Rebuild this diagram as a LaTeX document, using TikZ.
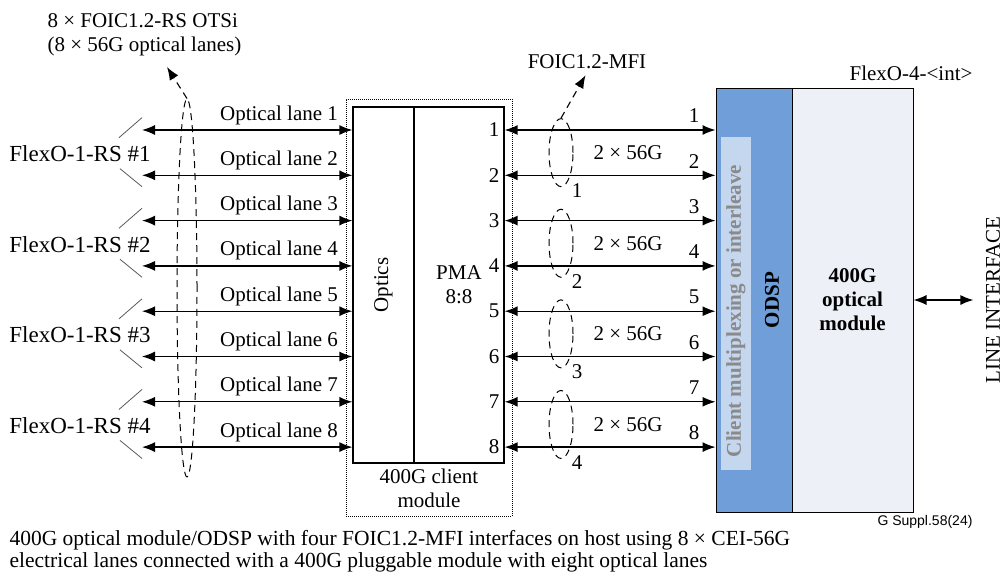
\documentclass[tikz,border=0pt]{standalone}
\usepackage{fontspec}
\setmainfont{Liberation Serif}
\newfontfamily\arialfont{Liberation Sans}
\usepackage{tikz}
\usetikzlibrary{arrows.meta, shapes.geometric, calc}

\newcommand{\bigtxt}{\fontsize{21}{24}\selectfont}
\definecolor{odspblue}{RGB}{111,158,217}
\definecolor{striplight}{RGB}{197,215,239}
\definecolor{modgray}{RGB}{237,240,246}
\definecolor{cligray}{RGB}{138,138,138}

\tikzset{
    lane/.style={{Latex[length=13pt,width=10pt]}-{Latex[length=13pt,width=10pt]}, line width=1.3pt},
    pointer/.style={-{Latex[length=13pt,width=10pt]}, dash pattern=on 7pt off 5pt, line width=1.1pt},
    blk/.style={draw, line width=1.2pt, inner sep=0pt},
    pair/.style={ellipse, draw, dash pattern=on 7pt off 5pt, line width=1pt, minimum width=24pt, minimum height=68pt, inner sep=0pt},
    slash/.style={draw=black!65, line width=0.8pt}
}

\begin{document}
\begin{tikzpicture}[x=1pt, y=-1pt, font=\bigtxt]
    \useasboundingbox (0,0) rectangle (1003,571);

    \node[blk, minimum width=61pt, minimum height=356pt] (optics) at (383.5,285) {};
    \node[rotate=90] (opticslbl) at (optics) {Optics};
    \node[blk, minimum width=90pt, minimum height=356pt, align=center] (pma) at (459,285) {PMA\\8:8};
    \node[draw, densely dotted, line width=1pt, minimum width=166pt, minimum height=417pt] (client) at (429,307.5) {};
    \node[align=center] (clientlbl) at (429,488) {400G client\\module};

    \node[draw, line width=1pt, fill=odspblue, minimum width=76pt, minimum height=424pt] (odsp) at (754,300) {};
    \node[fill=striplight, minimum width=30pt, minimum height=333pt] (strip) at (736,303.5) {};
    \node[rotate=90, text=cligray, font=\bigtxt\bfseries] (cmux) at (736,311) {Client multiplexing or interleave};
    \node[rotate=90, font=\bigtxt\bfseries] (odsplbl) at (772,300) {ODSP};
    \node[draw, line width=1pt, fill=modgray, minimum width=121pt, minimum height=424pt, align=center, font=\bigtxt\bfseries] (optmod) at (852.5,300) {400G\\optical\\module};

    \node[anchor=east] (flexo4) at (976,73) {FlexO-4-<int>};
    \node[rotate=90] (lineif) at (993,300) {LINE INTERFACE};
    \draw[lane, shorten >=9pt] (optmod.east) -- (lineif.north);

    \foreach \i/\y in {1/130, 2/175.3, 3/220.6, 4/265.9, 5/311.2, 6/356.5, 7/401.8, 8/447.1} {
        \coordinate (a\i) at (142,\y);
        \node (ol\i) at (279,\y-15) {Optical lane \i};
        \node (p\i) at (494,\y) {\i};
        \node (n\i) at (694,\y-14) {\i};
        \draw[lane] (a\i) -- (a\i -| optics.west);
        \draw[lane] (pma.east |- a\i) -- (a\i -| odsp.west);
    }

    \foreach \k/\y in {1/152.65, 2/243.25, 3/333.85, 4/424.45} {
        \node[font=\fontsize{23}{26}\selectfont] (g\k) at (80,\y+1) {FlexO-1-RS \#\k};
        \draw[slash] (119,\y-15) -- (142,\y-35);
        \draw[slash] (120,\y+16) -- (142,\y+34);
        \node[pair] (e\k) at (561,\y) {};
        \node (el\k) at (577,\y+38) {\k};
        \node (rate\k) at (628,\y) {2 × 56G};
    }

    \node (mfi) at (587,62) {FOIC1.2-MFI};
    \draw[pointer, shorten >=3pt] (e1.north) -- (mfi.south);

    \node[ellipse, draw, dash pattern=on 7pt off 5pt, line width=1pt, minimum width=20pt, minimum height=378pt] (otsi) at (187,288) {};
    \node[anchor=west, align=left] (otsilbl) at (44,35) {8 × FOIC1.2-RS OTSi\\(8 × 56G optical lanes)};
    \coordinate (otsitip) at (167,67);
    \draw[pointer] (otsi.north) -- (otsitip);

    \node[anchor=east, font=\arialfont\fontsize{14}{16}\selectfont] (gsup) at (976,522) {G Suppl.58(24)};
    \node[anchor=west, align=left, font=\fontsize{21.5}{22}\selectfont] (caption) at (6,551) {400G optical module/ODSP with four FOIC1.2-MFI interfaces on host using 8 × CEI-56G\\electrical lanes connected with a 400G pluggable module with eight optical lanes};
\end{tikzpicture}
\end{document}
